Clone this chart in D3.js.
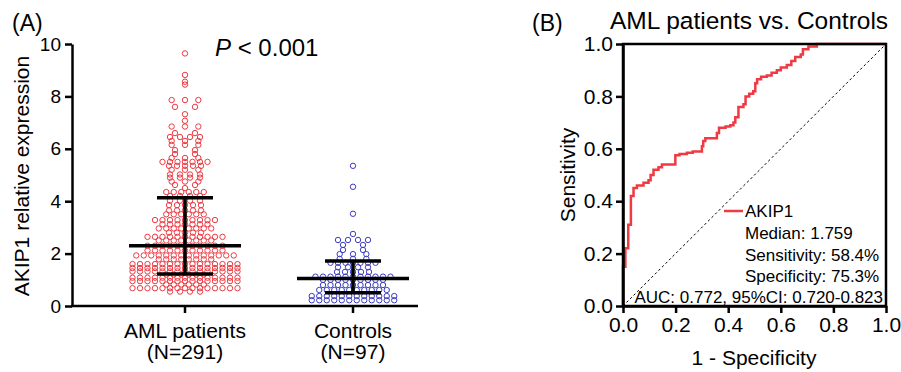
<!DOCTYPE html>
<html>
<head>
<meta charset="utf-8">
<script src="https://cdn.jsdelivr.net/npm/d3@7"></script>
<style>
  body { margin: 0; background: #fff; }
  svg { display: block; font-family: "Liberation Sans", Arial, sans-serif; }
</style>
</head>
<body>
<svg id="chart" width="901" height="372"></svg>
<script>
// ---- data ----
const groups = ['AML patients', 'Controls'];
const groupN = ['(N=291)', '(N=97)'];
const yTicksA = [0, 2, 4, 6, 8, 10];

// AKIP1 relative expression, one line per visible row of the dot plot
const amlValues = [
  0.55, 0.55, 0.55, 0.55,
  0.68, 0.68, 0.68, 0.68, 0.68, 0.68, 0.68, 0.68, 0.68, 0.68, 0.68, 0.68, 0.68, 0.68, 0.68,
  0.82, 0.82, 0.82, 0.82, 0.82, 0.82,
  0.95, 0.95, 0.95, 0.95, 0.95, 0.95, 0.95, 0.95, 0.95, 0.95, 0.95, 0.95, 0.95, 0.95, 0.95,
  1.08, 1.08, 1.08, 1.08, 1.08, 1.08, 1.08, 1.08, 1.08, 1.08, 1.08, 1.08, 1.08, 1.08, 1.08,
  1.20, 1.20, 1.20, 1.20, 1.20, 1.20,
  1.32, 1.32, 1.32, 1.32, 1.32, 1.32, 1.32, 1.32, 1.32, 1.32, 1.32, 1.32, 1.32, 1.32, 1.32,
  1.45, 1.45, 1.45, 1.45, 1.45, 1.45, 1.45, 1.45, 1.45, 1.45, 1.45, 1.45, 1.45, 1.45, 1.45,
  1.60, 1.60, 1.60, 1.60, 1.60, 1.60, 1.60, 1.60, 1.60, 1.60, 1.60, 1.60, 1.60, 1.60, 1.60,
  1.78, 1.78, 1.78, 1.78, 1.78, 1.78, 1.78, 1.78,
  1.93, 1.93, 1.93, 1.93, 1.93, 1.93, 1.93, 1.93, 1.93, 1.93, 1.93, 1.93, 1.93, 1.93,
  2.12, 2.12, 2.12, 2.12, 2.12, 2.12, 2.12, 2.12, 2.12, 2.12, 2.12,
  2.30, 2.30, 2.30, 2.30, 2.30, 2.30, 2.30, 2.30, 2.30, 2.30, 2.30,
  2.50, 2.50, 2.50, 2.50, 2.50, 2.50, 2.50, 2.50,
  2.64, 2.64, 2.64, 2.64, 2.64, 2.64, 2.64, 2.64, 2.64, 2.64, 2.64,
  2.80, 2.80, 2.80, 2.80, 2.80,
  2.96, 2.96, 2.96, 2.96, 2.96, 2.96, 2.96, 2.96,
  3.12, 3.12, 3.12, 3.12, 3.12, 3.12, 3.12,
  3.28, 3.28, 3.28, 3.28, 3.28, 3.28, 3.28, 3.28, 3.28,
  3.50, 3.50, 3.50, 3.50, 3.50, 3.50,
  3.65, 3.65, 3.65, 3.65, 3.65,
  3.85, 3.85, 3.85, 3.85, 3.85,
  4.02, 4.02, 4.02, 4.02,
  4.20, 4.20, 4.20, 4.20,
  4.35, 4.35, 4.35, 4.35, 4.35, 4.35,
  4.50,
  4.62, 4.62,
  4.75, 4.75, 4.75,
  4.90, 4.90, 4.90, 4.90,
  5.02, 5.02, 5.02, 5.02,
  5.20, 5.20, 5.20,
  5.35, 5.35, 5.35, 5.35, 5.35,
  5.50, 5.50, 5.50, 5.50, 5.50, 5.50, 5.50,
  5.65, 5.65, 5.65,
  5.80, 5.80,
  5.95, 5.95,
  6.15, 6.15, 6.15,
  6.30, 6.30, 6.30,
  6.45, 6.45, 6.45, 6.45,
  6.60, 6.60,
  6.85, 6.85, 6.85,
  7.07,
  7.32,
  7.60, 7.60,
  7.86, 7.86, 7.86,
  8.45,
  8.56,
  8.82,
  9.64
];

const controlValues = [
  0.22, 0.22, 0.22, 0.22, 0.22, 0.22, 0.22, 0.22, 0.22, 0.22, 0.22, 0.22,
  0.38, 0.38, 0.38, 0.38, 0.38, 0.38, 0.38, 0.38, 0.38, 0.38, 0.38, 0.38,
  0.61, 0.61, 0.61, 0.61, 0.61, 0.61, 0.61, 0.61, 0.61, 0.61,
  0.80, 0.80, 0.80, 0.80, 0.80, 0.80, 0.80, 0.80, 0.80,
  1.00, 1.00, 1.00, 1.00, 1.00, 1.00, 1.00, 1.00, 1.00,
  1.12, 1.12, 1.12, 1.12, 1.12, 1.12, 1.12, 1.12, 1.12, 1.12, 1.12,
  1.30, 1.30, 1.30, 1.30, 1.30,
  1.48, 1.48, 1.48, 1.48,
  1.65, 1.65, 1.65, 1.65, 1.65, 1.65, 1.65,
  1.80, 1.80, 1.80,
  1.98, 1.98, 1.98,
  2.14, 2.14,
  2.33, 2.33,
  2.52, 2.52, 2.52, 2.52,
  2.75,
  3.52,
  4.55,
  5.35
];

// [Q1, median, Q3] as drawn in the figure
const amlStats = [1.22, 2.30, 4.13];
const controlStats = [0.51, 1.05, 1.72];

// ROC curve vertices (1 - specificity, sensitivity)
const rocFpr = [0, 0, 0.009, 0.02, 0.03, 0.04, 0.053, 0.078, 0.097, 0.105, 0.116, 0.135, 0.148,
  0.199, 0.215, 0.243, 0.265, 0.30, 0.305, 0.313, 0.357, 0.365, 0.39, 0.408, 0.42, 0.427, 0.439,
  0.458, 0.466, 0.48, 0.495, 0.503, 0.51, 0.525, 0.547, 0.565, 0.585, 0.60, 0.623, 0.64, 0.655,
  0.676, 0.684, 0.705, 0.737, 1.0];
const rocTpr = [0, 0.15, 0.22, 0.31, 0.42, 0.45, 0.46, 0.47, 0.48, 0.50, 0.52, 0.53, 0.54,
  0.575, 0.58, 0.585, 0.59, 0.61, 0.63, 0.64, 0.66, 0.68, 0.685, 0.69, 0.70, 0.72, 0.76,
  0.77, 0.80, 0.81, 0.82, 0.85, 0.865, 0.875, 0.88, 0.89, 0.90, 0.91, 0.92, 0.935, 0.95,
  0.96, 0.98, 0.99, 1.0, 1.0];
const rocTicks = [0, 0.2, 0.4, 0.6, 0.8, 1.0];
const legendLines = ['Median: 1.759', 'Sensitivity: 58.4%', 'Specificity: 75.3%'];
const aucText = 'AUC: 0.772, 95%CI: 0.720-0.823';

// ---- drawing ----
const RED = '#ee3a43';
const BLUE = '#3d3dc4';
const svg = d3.select('#chart');

// panel A
const yA = d3.scaleLinear().domain([0, 10]).range([306, 44]);
const xA = d3.scalePoint().domain(groups).range([185, 353]);

const gA = svg.append('g');

// GraphPad-like rows: values in the same row spread out from the centre,
// short rows are spread wider like in the original
function swarm(values, cx, spacing) {
  const sorted = values.slice().sort(d3.ascending);
  const rows = [];
  sorted.forEach(v => {
    const r = rows[rows.length - 1];
    if (r && v - r[0] < 0.05) r.push(v); else rows.push([v]);
  });
  const pts = [];
  rows.forEach(r => {
    const n = r.length;
    const step = Math.max(spacing, 40 / n);
    const slots = d3.range(n).map(j => (j - (n - 1) / 2) * step)
      .sort((a, b) => Math.abs(a) - Math.abs(b) || a - b);
    r.forEach((v, i) => pts.push({ x: cx + slots[i], y: yA(v) }));
  });
  return pts;
}

const series = [
  { values: amlValues, color: RED, stats: amlStats, group: groups[0] },
  { values: controlValues, color: BLUE, stats: controlStats, group: groups[1] }
];

series.forEach(s => {
  gA.append('g').selectAll('circle')
    .data(swarm(s.values, xA(s.group), 7.5))
    .join('circle')
    .attr('cx', d => d.x)
    .attr('cy', d => d.y)
    .attr('r', 2.7)
    .attr('fill', 'none')
    .attr('stroke', s.color)
    .attr('stroke-width', 1);
});

// median + IQR bars
series.forEach(s => {
  const cx = xA(s.group);
  const [q1, med, q3] = s.stats;
  const bars = gA.append('g').attr('stroke', '#000').attr('stroke-width', 3.5);
  bars.append('line').attr('x1', cx).attr('x2', cx).attr('y1', yA(q1)).attr('y2', yA(q3));
  bars.append('line').attr('x1', cx - 56).attr('x2', cx + 56).attr('y1', yA(med)).attr('y2', yA(med));
  [q1, q3].forEach(q => {
    bars.append('line').attr('x1', cx - 28).attr('x2', cx + 28).attr('y1', yA(q)).attr('y2', yA(q));
  });
});

// axes A
const axA = gA.append('g')
  .attr('transform', 'translate(72,0)')
  .call(d3.axisLeft(yA).tickValues(yTicksA).tickSize(7).tickSizeOuter(0).tickPadding(4));
axA.selectAll('text').attr('font-size', 19).attr('fill', '#000').attr('font-family', 'Liberation Sans, Arial');
axA.selectAll('line').attr('stroke-width', 2.5).attr('stroke', '#000');
axA.select('.domain').attr('stroke-width', 2.5);

gA.append('line').attr('x1', 71).attr('x2', 418).attr('y1', 306).attr('y2', 306)
  .attr('stroke', '#000').attr('stroke-width', 2.5);
groups.forEach((g, i) => {
  gA.append('line').attr('x1', xA(g)).attr('x2', xA(g)).attr('y1', 306).attr('y2', 313)
    .attr('stroke', '#000').attr('stroke-width', 2.5);
  gA.append('text').attr('x', xA(g)).attr('y', 338).attr('text-anchor', 'middle')
    .attr('font-size', 21).text(g);
  gA.append('text').attr('x', xA(g)).attr('y', 359).attr('text-anchor', 'middle')
    .attr('font-size', 21).text(groupN[i]);
});

gA.append('text').attr('transform', 'translate(29,176) rotate(-90)')
  .attr('text-anchor', 'middle').attr('font-size', 21).text('AKIP1 relative expression');
gA.append('text').attr('x', 12).attr('y', 31).attr('font-size', 23).text('(A)');
const pText = gA.append('text').attr('x', 215).attr('y', 56).attr('font-size', 24);
pText.append('tspan').attr('font-style', 'italic').text('P');
pText.append('tspan').text(' < 0.001');

// panel B
const xB = d3.scaleLinear().domain([0, 1]).range([623, 886]);
const yB = d3.scaleLinear().domain([0, 1]).range([306, 44]);
const gB = svg.append('g');

gB.append('line')
  .attr('x1', xB(0)).attr('y1', yB(0)).attr('x2', xB(1)).attr('y2', yB(1))
  .attr('stroke', '#000').attr('stroke-width', 1).attr('stroke-dasharray', '2.5,2.5');

const rocPoints = rocFpr.map((f, i) => [f, rocTpr[i]]);
gB.append('path')
  .datum(rocPoints)
  .attr('fill', 'none')
  .attr('stroke', RED)
  .attr('stroke-width', 2.5)
  .attr('d', d3.line().x(d => xB(d[0])).y(d => yB(d[1])).curve(d3.curveStepAfter));

// frame
gB.append('rect').attr('x', xB(0)).attr('y', yB(1)).attr('width', xB(1) - xB(0)).attr('height', yB(0) - yB(1))
  .attr('fill', 'none').attr('stroke', '#000').attr('stroke-width', 2.5);

const axBy = gB.append('g').attr('transform', `translate(${xB(0)},0)`)
  .call(d3.axisLeft(yB).tickValues(rocTicks).tickFormat(d3.format('.1f')).tickSize(7).tickSizeOuter(0).tickPadding(3));
const axBx = gB.append('g').attr('transform', `translate(0,${yB(0)})`)
  .call(d3.axisBottom(xB).tickValues(rocTicks).tickFormat(d3.format('.1f')).tickSize(7).tickSizeOuter(0).tickPadding(4));
[axBy, axBx].forEach(ax => {
  ax.selectAll('text').attr('font-size', 21).attr('fill', '#000').attr('font-family', 'Liberation Sans, Arial');
  ax.selectAll('line').attr('stroke-width', 2.5).attr('stroke', '#000');
  ax.select('.domain').attr('stroke-width', 2.5);
});

gB.append('text').attr('transform', 'translate(575,175) rotate(-90)')
  .attr('text-anchor', 'middle').attr('font-size', 21).text('Sensitivity');
gB.append('text').attr('x', 754).attr('y', 365).attr('text-anchor', 'middle')
  .attr('font-size', 21).text('1 - Specificity');
gB.append('text').attr('x', 532).attr('y', 31).attr('font-size', 23).text('(B)');
gB.append('text').attr('x', 749).attr('y', 29).attr('text-anchor', 'middle')
  .attr('font-size', 24.5).text('AML patients vs. Controls');

// legend
gB.append('line').attr('x1', 724).attr('x2', 743).attr('y1', 211).attr('y2', 211)
  .attr('stroke', RED).attr('stroke-width', 2.5);
gB.append('text').attr('x', 745).attr('y', 217).attr('font-size', 17).text('AKIP1');
legendLines.forEach((t, i) => {
  gB.append('text').attr('x', 745).attr('y', 239 + i * 21.5).attr('font-size', 17).text(t);
});
gB.append('text').attr('x', 883).attr('y', 303).attr('text-anchor', 'end')
  .attr('font-size', 17).text(aucText);
</script>
</body>
</html>
